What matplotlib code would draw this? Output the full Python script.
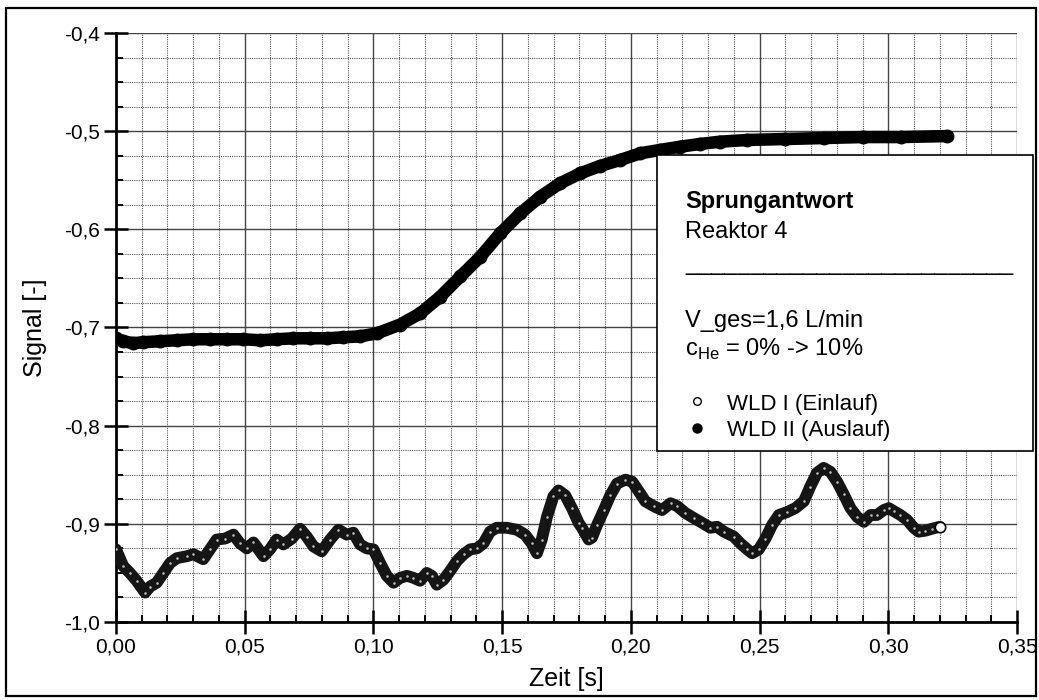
import matplotlib

matplotlib.use("Agg")
import matplotlib.pyplot as plt
from matplotlib.lines import Line2D
from matplotlib.patches import Rectangle
from matplotlib.ticker import FixedLocator, MultipleLocator

plt.rcParams["font.family"] = ["Liberation Sans", "DejaVu Sans"]
plt.rcParams["mathtext.fontset"] = "custom"
plt.rcParams["mathtext.rm"] = "Liberation Sans"

# WLD I (Einlauf), open circles, lower trace
t_ein = [0.000, 0.0028, 0.0054, 0.0080, 0.0113, 0.0132, 0.0158, 0.0184, 0.0210, 0.0236,
         0.0275, 0.0301, 0.0339, 0.0365, 0.0391, 0.0424, 0.0456, 0.0482, 0.0508, 0.0534,
         0.0573, 0.0598, 0.0624, 0.0650, 0.0683, 0.0715, 0.0741, 0.0767, 0.0799, 0.0832,
         0.0864, 0.0896, 0.0922, 0.0948, 0.0974, 0.1000, 0.1026, 0.1052, 0.1078, 0.1104,
         0.1130, 0.1155, 0.1181, 0.1207, 0.1227, 0.1246, 0.1272, 0.1298, 0.1324, 0.1350,
         0.1376, 0.1402, 0.1427, 0.1453, 0.1479, 0.1518, 0.1557, 0.1589, 0.1615, 0.1635,
         0.1654, 0.1674, 0.1699, 0.1719, 0.1745, 0.1771, 0.1797, 0.1810, 0.1836, 0.1849,
         0.1869, 0.1895, 0.1920, 0.1946, 0.1979, 0.2005, 0.2031, 0.2056, 0.2089, 0.2121,
         0.2154, 0.2180, 0.2212, 0.2244, 0.2277, 0.2309, 0.2335, 0.2361, 0.2400, 0.2426,
         0.2452, 0.2471, 0.2497, 0.2523, 0.2549, 0.2575, 0.2607, 0.2639, 0.2672, 0.2697,
         0.2723, 0.2749, 0.2775, 0.2801, 0.2827, 0.2853, 0.2879, 0.2905, 0.2931, 0.2956,
         0.2982, 0.3002, 0.3021, 0.3047, 0.3073, 0.3099, 0.3118, 0.3144, 0.3170, 0.3200]
sig_ein = [-0.926, -0.943, -0.950, -0.958, -0.970, -0.964, -0.960, -0.950, -0.940, -0.935,
           -0.933, -0.931, -0.936, -0.926, -0.916, -0.915, -0.911, -0.920, -0.925, -0.919,
           -0.933, -0.926, -0.916, -0.921, -0.915, -0.905, -0.913, -0.923, -0.928, -0.916,
           -0.906, -0.911, -0.909, -0.921, -0.925, -0.926, -0.940, -0.953, -0.960, -0.955,
           -0.953, -0.955, -0.958, -0.950, -0.953, -0.962, -0.957, -0.948, -0.938, -0.931,
           -0.926, -0.925, -0.920, -0.908, -0.904, -0.904, -0.906, -0.911, -0.920, -0.930,
           -0.916, -0.893, -0.872, -0.866, -0.871, -0.884, -0.899, -0.904, -0.916, -0.914,
           -0.901, -0.886, -0.871, -0.859, -0.855, -0.857, -0.867, -0.877, -0.882, -0.886,
           -0.879, -0.882, -0.889, -0.894, -0.899, -0.904, -0.903, -0.908, -0.913, -0.920,
           -0.926, -0.930, -0.926, -0.915, -0.901, -0.891, -0.888, -0.884, -0.877, -0.862,
           -0.848, -0.843, -0.847, -0.857, -0.870, -0.884, -0.893, -0.898, -0.891, -0.891,
           -0.886, -0.884, -0.887, -0.891, -0.896, -0.904, -0.908, -0.907, -0.905, -0.903]

# WLD II (Auslauf), filled circles, step response
t_aus = [0.000, 0.0028, 0.0067, 0.0106, 0.0171, 0.0236, 0.0301, 0.0365, 0.0430, 0.0495,
         0.0560, 0.0624, 0.0689, 0.0754, 0.0819, 0.0883, 0.0948, 0.1013, 0.1104, 0.1182,
         0.1260, 0.1338, 0.1415, 0.1493, 0.1571, 0.1648, 0.1726, 0.1804, 0.1881, 0.1959,
         0.2037, 0.2114, 0.2192, 0.2270, 0.2347, 0.2451, 0.2600, 0.2750, 0.2900, 0.3050,
         0.3227]
sig_aus = [-0.711, -0.714, -0.716, -0.715, -0.714, -0.713, -0.712, -0.712, -0.712, -0.712,
           -0.713, -0.712, -0.711, -0.711, -0.711, -0.710, -0.709, -0.706, -0.697, -0.6855,
           -0.6685, -0.648, -0.628, -0.604, -0.5836, -0.5667, -0.553, -0.5429, -0.5354, -0.5293,
           -0.5225, -0.5191, -0.5158, -0.513, -0.5107, -0.509, -0.508, -0.507, -0.506, -0.506,
           -0.505]

x_ticks = [0.00, 0.05, 0.10, 0.15, 0.20, 0.25, 0.30, 0.35]
x_labels = ["0,00", "0,05", "0,10", "0,15", "0,20", "0,25", "0,30", "0,35"]
y_ticks = [-1.0, -0.9, -0.8, -0.7, -0.6, -0.5, -0.4]
y_labels = ["-1,0", "-0,9", "-0,8", "-0,7", "-0,6", "-0,5", "-0,4"]

W, H = 1039, 700


def fx(px):
    return px / W


def fy(py):
    return 1 - py / H


fig = plt.figure(figsize=(W / 100, H / 100), dpi=100)
ax = fig.add_axes([fx(116), fy(622), fx(1017) - fx(116), fy(33) - fy(622)])

ax.set_xlim(0, 0.35)
ax.set_ylim(-1.0, -0.4)
ax.xaxis.set_major_locator(FixedLocator(x_ticks))
ax.set_xticklabels(x_labels)
ax.yaxis.set_major_locator(FixedLocator(y_ticks))
ax.set_yticklabels(y_labels)
ax.xaxis.set_minor_locator(MultipleLocator(0.01))
ax.yaxis.set_minor_locator(MultipleLocator(0.025))

ax.grid(which="major", color="#444444", lw=1.0, ls="-", zorder=0)
ax.grid(which="minor", color="#555555", lw=0.8, ls=(0, (1, 1)), zorder=0)
ax.set_axisbelow(True)

for side in ("top", "right"):
    ax.spines[side].set_visible(False)
for side in ("left", "bottom"):
    ax.spines[side].set_linewidth(2)

ax.tick_params(which="major", direction="inout", length=17, width=1.8,
               labelsize=15, pad=3)
ax.tick_params(which="minor", direction="in", length=5, width=1.4)

# lower trace: dense open circles
ax.plot(t_ein, sig_ein, color="#151515", lw=8.5, solid_capstyle="round",
        solid_joinstyle="round", zorder=3)
ax.plot(t_ein, sig_ein, "o", ms=3.2, mfc="#bbbbbb", mec="#151515", mew=1.3, zorder=4)
ax.plot(t_ein[-1:], sig_ein[-1:], "o", ms=7.5, mfc="white", mec="black", mew=1.2, zorder=5)

# upper trace: dense filled circles
ax.plot(t_aus, sig_aus, color="black", lw=9, solid_capstyle="round",
        solid_joinstyle="round", zorder=3)
ax.plot(t_aus, sig_aus, "o", ms=9, mfc="black", mec="black", zorder=4)

ax.set_xlabel("Zeit [s]", fontsize=18, labelpad=7)
ax.set_ylabel("Signal [-]", fontsize=18, labelpad=12)

# legend / annotation box
box = Rectangle((fx(657), fy(451)), fx(1033) - fx(657), fy(155) - fy(451),
                transform=fig.transFigure, facecolor="white", edgecolor="black",
                lw=1.2, zorder=5)
fig.add_artist(box)
tx = fx(685)
fig.text(tx, fy(208), "Sprungantwort", fontsize=17, fontweight="bold",
         va="baseline", zorder=6)
fig.text(tx, fy(238), "Reaktor 4", fontsize=17, va="baseline", zorder=6)
fig.text(tx, fy(270), "_" * 25, fontsize=17, va="baseline", zorder=6)
fig.text(tx, fy(327), "V_ges=1,6 L/min", fontsize=17, va="baseline", zorder=6)
fig.text(tx, fy(356), r"c$_{\mathregular{He}}$ = 0% -> 10%", fontsize=17,
         va="baseline", zorder=6)

fig.add_artist(Line2D([fx(697)], [fy(401)], marker="o", ms=5.5, mfc="white",
                      mec="black", mew=1, transform=fig.transFigure, zorder=6))
fig.add_artist(Line2D([fx(697)], [fy(428)], marker="o", ms=6.5, mfc="black",
                      mec="black", transform=fig.transFigure, zorder=6))
fig.text(fx(727), fy(410), "WLD I (Einlauf)", fontsize=16, va="baseline", zorder=6)
fig.text(fx(727), fy(436), "WLD II (Auslauf)", fontsize=16, va="baseline", zorder=6)

# outer frame
fig.add_artist(Rectangle((fx(6), fy(696)), fx(1036) - fx(6), fy(8) - fy(696),
                         transform=fig.transFigure, fill=False, edgecolor="black",
                         lw=1.6, zorder=7))

fig.savefig("out.png", dpi=100)
